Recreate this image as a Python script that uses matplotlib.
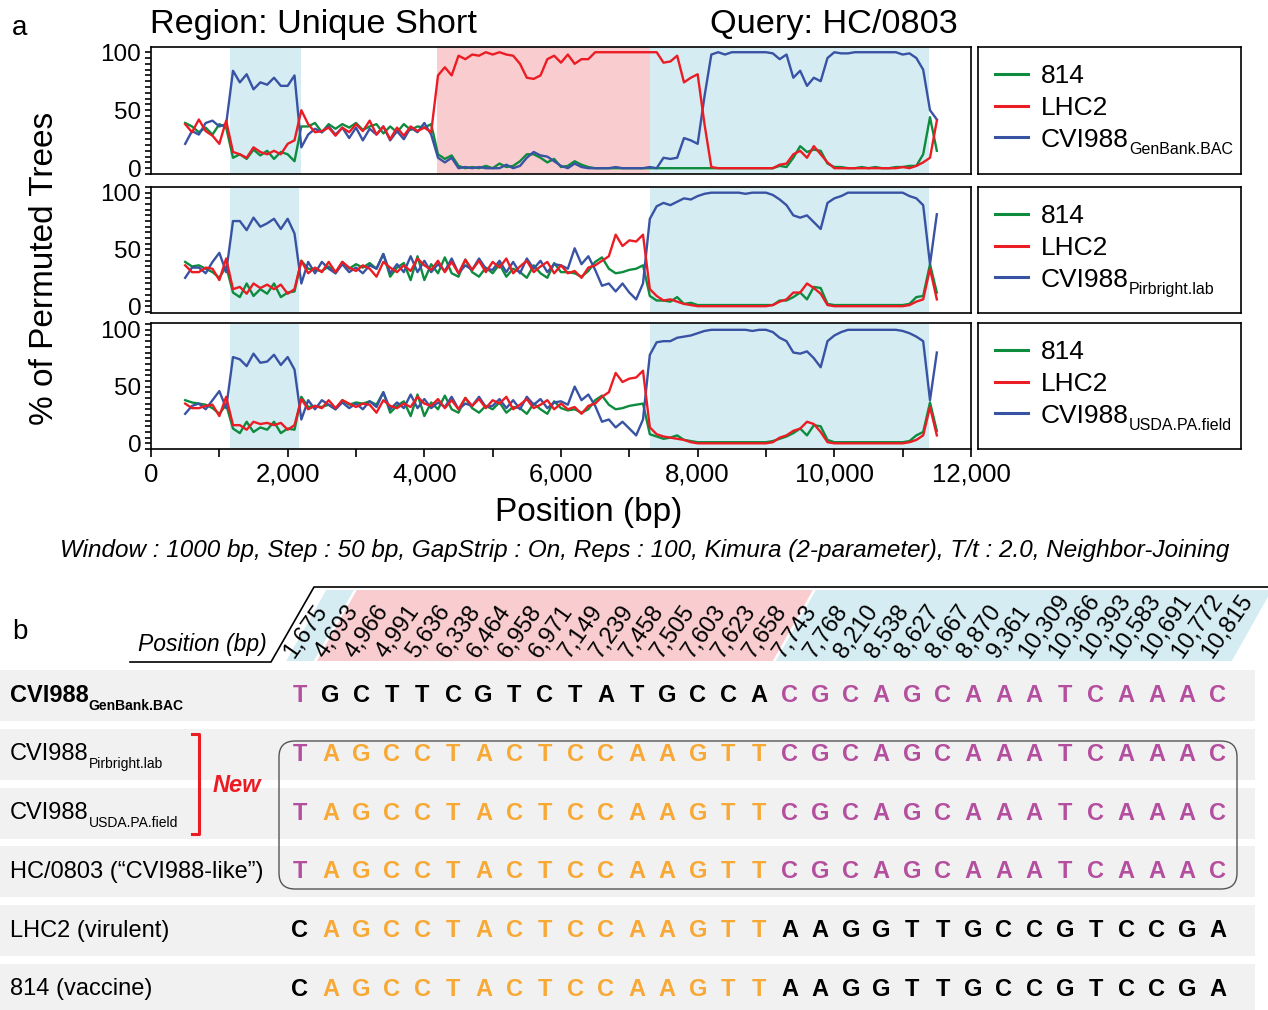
import matplotlib
matplotlib.use('Agg')
import matplotlib.pyplot as plt
import numpy as np
from matplotlib.lines import Line2D
from matplotlib.patches import Polygon, Rectangle, FancyBboxPatch
from matplotlib.text import Annotation
from matplotlib.ticker import MultipleLocator, FuncFormatter

plt.rcParams['font.family'] = ['Liberation Sans', 'DejaVu Sans']

# ---------------- data: panel a (bootscan, % of permuted trees) ----------------
positions = np.arange(500, 11501, 100)

# query HC/0803 vs CVI988 GenBank.BAC
p1_814 = [39, 36, 31, 35, 29, 38, 35, 9, 12, 8,
          16, 11, 15, 8, 14, 12, 6, 36, 36, 39,
          31, 38, 34, 38, 35, 39, 33, 36, 38, 30,
          36, 31, 38, 33, 36, 35, 38, 12, 8, 11,
          2, 0, 1, 0, 2, 0, 4, 1, 2, 6,
          12, 12, 9, 5, 8, 1, 2, 6, 3, 1,
          0, 0, 0, 0, 0, 0, 0, 0, 0, 0,
          0, 0, 0, 0, 0, 0, 0, 0, 0, 0,
          0, 0, 0, 0, 0, 0, 0, 2, 1, 9,
          19, 14, 16, 15, 4, 1, 1, 0, 0, 1,
          0, 1, 0, 0, 1, 1, 2, 2, 12, 44,
          15]
p1_lhc2 = [38, 31, 42, 32, 28, 21, 41, 14, 12, 9,
           18, 14, 12, 15, 12, 21, 24, 50, 38, 31,
           32, 35, 28, 35, 31, 38, 32, 41, 29, 36,
           25, 35, 28, 36, 32, 35, 31, 80, 87, 80,
           97, 94, 98, 97, 100, 98, 100, 98, 97, 90,
           78, 77, 80, 94, 97, 91, 98, 90, 94, 94,
           100, 100, 100, 100, 100, 100, 100, 100, 100, 100,
           91, 92, 97, 74, 78, 81, 38, 1, 0, 0,
           0, 0, 0, 0, 0, 0, 0, 3, 4, 12,
           15, 9, 19, 12, 5, 0, 0, 0, 0, 0,
           0, 0, 0, 0, 0, 1, 0, 2, 5, 9,
           41]
p1_cvi = [21, 32, 29, 39, 41, 36, 38, 84, 74, 81,
          68, 74, 72, 78, 71, 71, 80, 18, 29, 34,
          31, 36, 29, 35, 26, 35, 24, 34, 29, 36,
          24, 32, 25, 35, 31, 39, 29, 9, 5, 9,
          0, 1, 0, 1, 0, 0, 0, 3, 0, 2,
          9, 14, 11, 10, 6, 2, 0, 4, 1, 0,
          0, 0, 0, 1, 0, 0, 0, 0, 1, 0,
          9, 8, 9, 26, 24, 21, 62, 98, 100, 98,
          100, 100, 100, 100, 100, 100, 99, 94, 98, 78,
          84, 71, 78, 75, 95, 100, 99, 99, 100, 100,
          100, 100, 100, 100, 100, 98, 99, 95, 85, 50,
          42]

# query HC/0803 vs CVI988 Pirbright.lab
p2_814 = [39, 35, 36, 33, 30, 25, 35, 12, 8, 20,
          9, 15, 11, 20, 8, 12, 13, 40, 33, 32,
          31, 35, 29, 39, 33, 37, 34, 38, 33, 46,
          26, 34, 38, 23, 44, 23, 37, 29, 43, 29,
          26, 41, 30, 26, 34, 29, 37, 26, 33, 30,
          25, 36, 29, 25, 38, 30, 30, 29, 26, 31,
          39, 43, 33, 29, 30, 32, 33, 36, 9, 5,
          5, 4, 8, 2, 3, 1, 1, 1, 1, 1,
          1, 1, 1, 1, 1, 1, 1, 5, 5, 8,
          12, 6, 17, 16, 2, 1, 1, 1, 1, 1,
          1, 1, 1, 1, 1, 1, 2, 8, 9, 37,
          12]
p2_lhc2 = [36, 30, 30, 34, 33, 23, 42, 15, 17, 11,
           20, 16, 19, 15, 19, 11, 15, 40, 29, 34,
           30, 39, 30, 39, 34, 31, 36, 33, 26, 39,
           34, 30, 36, 31, 42, 36, 32, 40, 30, 39,
           29, 41, 32, 40, 30, 39, 34, 42, 29, 35,
           40, 30, 35, 39, 29, 36, 29, 31, 25, 34,
           36, 40, 44, 63, 53, 58, 57, 63, 15, 9,
           5, 6, 4, 2, 1, 0, 0, 0, 0, 0,
           0, 0, 0, 0, 0, 0, 1, 4, 6, 12,
           12, 20, 16, 11, 1, 0, 0, 0, 0, 0,
           0, 0, 0, 0, 0, 0, 1, 4, 6, 33,
           6]
p2_cvi = [25, 34, 34, 29, 39, 47, 30, 75, 75, 67,
          78, 70, 73, 77, 68, 77, 64, 20, 39, 29,
          39, 33, 29, 37, 30, 34, 29, 36, 33, 46,
          29, 37, 30, 44, 30, 40, 30, 37, 31, 42,
          29, 36, 32, 42, 33, 32, 40, 30, 39, 29,
          42, 33, 40, 30, 37, 36, 33, 51, 37, 44,
          32, 18, 20, 13, 20, 12, 6, 20, 77, 88,
          91, 89, 92, 95, 94, 97, 99, 100, 100, 100,
          100, 100, 99, 100, 100, 100, 98, 94, 89, 80,
          78, 80, 74, 68, 91, 95, 97, 100, 100, 100,
          100, 100, 100, 100, 100, 100, 97, 95, 89, 37,
          81]

# query HC/0803 vs CVI988 USDA.PA.field
p3_814 = [38, 36, 35, 34, 31, 26, 34, 13, 9, 19,
          10, 14, 12, 19, 9, 13, 12, 41, 32, 33,
          32, 34, 30, 38, 34, 36, 35, 37, 34, 45,
          27, 33, 37, 24, 43, 24, 36, 30, 42, 30,
          27, 40, 31, 27, 33, 30, 36, 27, 32, 31,
          26, 35, 30, 26, 37, 31, 29, 30, 27, 30,
          38, 42, 34, 30, 31, 33, 34, 35, 8, 6,
          4, 5, 7, 3, 2, 1, 1, 1, 1, 1,
          1, 1, 1, 1, 1, 1, 2, 4, 6, 9,
          13, 7, 16, 15, 3, 1, 1, 1, 1, 1,
          1, 1, 1, 1, 1, 1, 2, 7, 10, 36,
          11]
p3_lhc2 = [35, 31, 31, 33, 34, 24, 41, 16, 16, 12,
           19, 17, 18, 16, 18, 12, 16, 39, 30, 33,
           31, 38, 31, 38, 35, 32, 35, 34, 27, 38,
           33, 31, 35, 32, 41, 35, 33, 39, 31, 38,
           30, 40, 33, 39, 31, 38, 35, 41, 30, 34,
           39, 31, 34, 38, 30, 35, 30, 32, 26, 33,
           35, 41, 45, 62, 54, 57, 58, 64, 14, 8,
           6, 5, 4, 3, 1, 0, 0, 0, 0, 0,
           0, 0, 0, 0, 0, 0, 1, 5, 7, 11,
           13, 19, 17, 10, 1, 0, 0, 0, 0, 0,
           0, 0, 0, 0, 0, 0, 1, 3, 7, 32,
           7]
p3_cvi = [26, 33, 35, 30, 38, 46, 31, 76, 74, 68,
          79, 71, 72, 78, 69, 76, 65, 21, 38, 30,
          38, 34, 30, 36, 31, 35, 30, 37, 32, 45,
          30, 36, 31, 43, 31, 39, 31, 36, 32, 41,
          30, 35, 33, 41, 32, 33, 39, 31, 38, 30,
          41, 34, 39, 31, 36, 37, 34, 50, 38, 43,
          33, 19, 21, 14, 19, 13, 7, 21, 78, 89,
          90, 90, 93, 94, 95, 97, 99, 100, 100, 100,
          100, 100, 100, 99, 100, 100, 98, 93, 90, 80,
          79, 81, 75, 67, 90, 95, 98, 100, 100, 100,
          100, 100, 100, 100, 100, 99, 97, 94, 90, 38,
          80]

# shaded regions (start bp, end bp, kind)
spans1 = [(1160, 2190, 'blue'), (4180, 7300, 'pink'), (7300, 11380, 'blue')]
spans2 = [(1150, 2170, 'blue'), (7300, 11380, 'blue')]
spans3 = [(1150, 2170, 'blue'), (7300, 11380, 'blue')]

cvi_subs = ['GenBank.BAC', 'Pirbright.lab', 'USDA.PA.field']

# ---------------- data: panel b (informative sites) ----------------
site_labels = ['1,675', '4,693', '4,966', '4,991', '5,636', '6,338', '6,464', '6,958',
               '6,971', '7,149', '7,239', '7,458', '7,505', '7,603', '7,623', '7,658',
               '7,743', '7,768', '8,210', '8,538', '8,627', '8,667', '8,870', '9,361',
               '10,309', '10,366', '10,393', '10,583', '10,691', '10,772', '10,815']
site_region = ['blue'] + ['pink'] * 15 + ['blue'] * 15

row_names = ['CVI988', 'CVI988', 'CVI988', 'HC/0803 (\u201cCVI988-like\u201d)',
             'LHC2 (virulent)', '814 (vaccine)']
row_subs = ['GenBank.BAC', 'Pirbright.lab', 'USDA.PA.field', '', '', '']
row_seqs = ['TGCTTCGTCTATGCCACGCAGCAAATCAAAC',
            'TAGCCTACTCCAAGTTCGCAGCAAATCAAAC',
            'TAGCCTACTCCAAGTTCGCAGCAAATCAAAC',
            'TAGCCTACTCCAAGTTCGCAGCAAATCAAAC',
            'CAGCCTACTCCAAGTTAAGGTTGCCGTCCGA',
            'CAGCCTACTCCAAGTTAAGGTTGCCGTCCGA']

# ---------------- style ----------------
GREEN = '#0d8c3e'
RED = '#ec1c24'
BLUE = '#3953a4'
SHADE = {'blue': '#d4ecf2', 'pink': '#f9cdcf'}
PURPLE = '#b44e9e'
ORANGE = '#f8a935'

W, H = 1268, 1010
fig = plt.figure(figsize=(W / 100, H / 100), dpi=100)


def box(l, t, r, b):
    return [l / W, 1 - b / H, (r - l) / W, (b - t) / H]


# pixel-coordinate canvas for texts and panel b
axb = fig.add_axes([0, 0, 1, 1], zorder=-1)
axb.set_xlim(0, W)
axb.set_ylim(H, 0)
axb.axis('off')

# ---------------- panel a ----------------
panels = [(47, 174, (-5, 104.5), spans1, p1_814, p1_lhc2, p1_cvi),
          (187, 313, (-6, 105), spans2, p2_814, p2_lhc2, p2_cvi),
          (323, 449, (-5, 106), spans3, p3_814, p3_lhc2, p3_cvi)]

for k, (top, bot, ylim, spans, y814, ylhc, ycvi) in enumerate(panels):
    ax = fig.add_axes(box(151, top, 971, bot))
    for s, e, kind in spans:
        ax.axvspan(s, e, color=SHADE[kind], lw=0, zorder=0)
    ax.plot(positions, y814, color=GREEN, lw=1.7)
    ax.plot(positions, ycvi, color=BLUE, lw=1.7)
    ax.plot(positions, ylhc, color=RED, lw=1.7)
    ax.set_xlim(0, 12000)
    ax.set_ylim(*ylim)
    ax.set_yticks([0, 50, 100])
    ax.yaxis.set_minor_locator(MultipleLocator(5))
    ax.tick_params(axis='y', which='both', direction='out', length=4, width=1.2,
                   labelsize=17.5, pad=3)
    for sp in ax.spines.values():
        sp.set_linewidth(1.2)
    if k < 2:
        ax.tick_params(axis='x', which='both', bottom=False, labelbottom=False)
    else:
        ax.xaxis.set_major_locator(MultipleLocator(2000))
        ax.xaxis.set_minor_locator(MultipleLocator(1000))
        ax.xaxis.set_major_formatter(FuncFormatter(lambda v, p: f'{int(v):,}'))
        ax.tick_params(axis='x', which='both', direction='out', length=6, width=1.2,
                       labelsize=18.5, pad=4)

    # legend box
    axl = fig.add_axes(box(978, top, 1241, bot))
    axl.set_xticks([])
    axl.set_yticks([])
    for sp in axl.spines.values():
        sp.set_linewidth(1.2)
    handles = [Line2D([], [], color=GREEN, lw=2.2),
               Line2D([], [], color=RED, lw=2.2),
               Line2D([], [], color=BLUE, lw=2.2)]
    leg = axl.legend(handles, ['814', 'LHC2', 'CVI988'], loc='upper left',
                     bbox_to_anchor=(0.0, 1.0), frameon=False, fontsize=19,
                     handlelength=1.25, handletextpad=0.5, labelspacing=0.3,
                     borderaxespad=0, borderpad=0.64)
    # subscript drawn at figure level so it follows the placed legend text
    fig.add_artist(Annotation(cvi_subs[k], xy=(1, 0), xycoords=leg.get_texts()[2],
                              xytext=(0, -4), textcoords='offset points',
                              fontsize=11.5, ha='left', va='bottom'))

# titles and labels
axb.text(12, 28, 'a', fontsize=20, ha='left', va='center')
axb.text(150, 24, 'Region: Unique Short', fontsize=24.7, ha='left', va='center')
axb.text(710, 24, 'Query: HC/0803', fontsize=24.7, ha='left', va='center')
axb.text(45, 268, '% of Permuted Trees', fontsize=24, rotation=90, ha='center', va='center')
axb.text(589, 513, 'Position (bp)', fontsize=24, ha='center', va='center')
axb.text(645, 550, 'Window : 1000 bp, Step : 50 bp, GapStrip : On, Reps : 100, '
         'Kimura (2-parameter), T/t : 2.0, Neighbor-Joining',
         fontsize=17.5, style='italic', ha='center', va='center')

# ---------------- panel b ----------------
axb.text(12, 632, 'b', fontsize=20, ha='left', va='center')

col_x0, col_dx = 300, 30.6
n_sites = len(site_labels)
col_x = [col_x0 + j * col_dx for j in range(n_sites)]
half = col_dx / 2
slant = 40
y_hb, y_ht = 661, 590

# header parallelograms grouped by region
groups = []
start = 0
for j in range(1, n_sites + 1):
    if j == n_sites or site_region[j] != site_region[start]:
        groups.append((start, j - 1, site_region[start]))
        start = j
for a, b_, kind in groups:
    bl = col_x[a] - half + 1.5
    br = col_x[b_] + half - 1.5
    axb.add_patch(Polygon([(bl, y_hb), (br, y_hb), (br + slant, y_ht), (bl + slant, y_ht)],
                          closed=True, fc=SHADE[kind], ec='none', zorder=1))

axb.plot([130, 271, 314, W], [662, 662, 587, 587], color='black', lw=1.2, zorder=2)
axb.text(138, 644, 'Position (bp)', fontsize=16.5, style='italic', ha='left', va='center')
for j, lab in enumerate(site_labels):
    axb.text(col_x[j] - 6, 659, lab, fontsize=17, rotation=55, rotation_mode='anchor',
             ha='left', va='baseline', zorder=3)

# rows
ref_seq = row_seqs[0]
lhc_seq = row_seqs[4]
row_top0, row_pitch, row_h = 670, 58.8, 51
for i, (name, sub, seq) in enumerate(zip(row_names, row_subs, row_seqs)):
    top = row_top0 + i * row_pitch
    yc = top + row_h / 2
    axb.add_patch(Rectangle((0, top), 1255, row_h, fc='#f1f1f1', ec='none', zorder=0))
    weight = 'bold' if i == 0 else 'normal'
    t = axb.text(10, yc, name, fontsize=17, fontweight=weight, ha='left', va='center')
    if sub:
        axb.annotate(sub, xy=(1, 0), xycoords=t, xytext=(0, -4), textcoords='offset points',
                     fontsize=10, fontweight=weight, ha='left', va='bottom')
    for j, ch in enumerate(seq):
        if site_region[j] == 'blue':
            c = PURPLE if ch == ref_seq[j] else 'black'
        else:
            c = ORANGE if ch == lhc_seq[j] else 'black'
        axb.text(col_x[j], yc, ch, fontsize=17, fontweight='bold', color=c,
                 ha='center', va='center', zorder=3)

# "New" bracket and rounded box
axb.plot([192, 199, 199, 192], [734, 734, 834, 834], color=RED, lw=2.2)
axb.text(237, 786, 'New', fontsize=17, fontweight='bold', style='italic', color=RED,
         ha='center', va='center')
axb.add_patch(FancyBboxPatch((279, 741), 958, 148,
                             boxstyle='round,pad=0,rounding_size=16',
                             fc='none', ec='#555555', lw=1.0, zorder=4))

fig.savefig('out.png', dpi=100, facecolor='white')
